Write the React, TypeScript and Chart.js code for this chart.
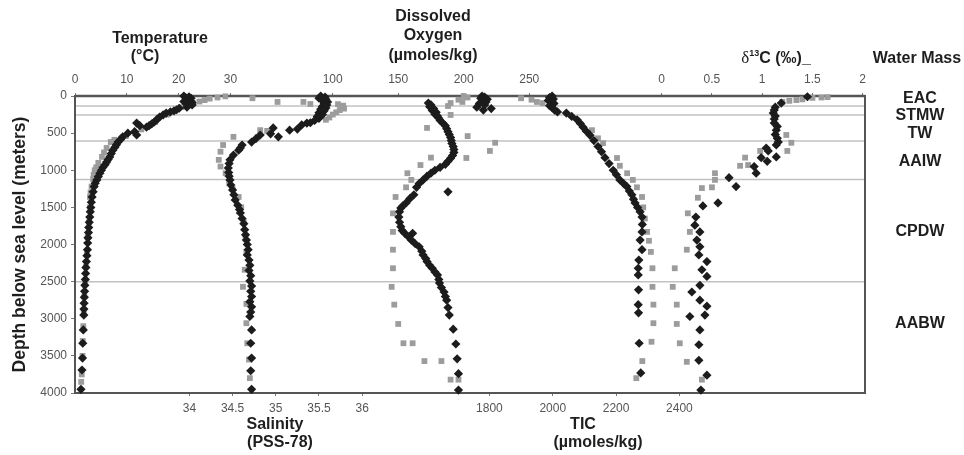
import React, { useEffect, useRef } from 'react';
import { Chart, registerables } from 'chart.js';

Chart.register(...registerables);

type P = [number, number]; // [depth (m), value]

// ---------- Temperature (°C) ----------
const tempBlack: P[] = [
  [0, 21.0], [10, 22.0], [20, 21.3], [30, 22.4], [45, 21.6], [60, 22.2], [75, 21.0], [90, 22.6], [105, 21.8], [120, 22.6],
  [150, 21.6], [165, 20.1], [185, 19.6], [200, 19.1], [215, 18.4], [230, 17.6], [255, 17.0], [285, 16.3], [315, 15.8],
  [350, 15.3], [375, 14.8], [400, 14.3], [420, 13.8], [400, 12.5], [365, 11.9], [480, 11.5], [525, 11.9], [500, 10.2],
  [550, 9.2], [585, 8.8], [620, 8.3], [655, 8.0], [690, 7.7], [730, 7.3], [775, 7.0], [820, 6.7], [855, 6.4], [890, 6.1],
  [925, 5.8], [960, 5.4], [1000, 5.1], [1040, 4.8], [1085, 4.5], [1130, 4.2], [1175, 3.9], [1220, 3.7], [1290, 3.5],
  [1360, 3.3], [1430, 3.15], [1500, 3.05], [1560, 2.95], [1630, 2.85], [1700, 2.75], [1770, 2.65], [1840, 2.6],
  [1910, 2.5], [1980, 2.45], [2070, 2.4], [2150, 2.3], [2230, 2.2], [2310, 2.1], [2390, 2.05], [2470, 2.0], [2550, 1.9],
  [2630, 1.85], [2710, 1.8], [2790, 1.75], [2870, 1.72], [2950, 1.7], [3150, 1.6], [3330, 1.5], [3530, 1.45],
  [3690, 1.35], [3950, 1.15],
];
const tempGray: P[] = [
  [5, 29.0], [20, 27.5], [35, 26.0], [55, 25.0], [75, 24.0], [95, 22.8], [150, 20.5], [250, 17.8], [350, 15.5],
  [450, 12.8], [540, 9.8], [590, 7.6], [620, 6.9], [700, 6.1], [760, 5.6], [820, 5.2], [900, 4.5], [960, 4.1],
  [1000, 3.8], [1060, 3.6], [1120, 3.5], [1220, 3.2], [1300, 3.0], [1360, 2.9], [1500, 2.9], [1700, 2.7], [1900, 2.45],
  [2100, 2.3], [2300, 2.1], [2500, 1.95], [2700, 1.8], [2900, 1.7], [3100, 1.6], [3300, 1.5], [3500, 1.45],
  [3750, 1.3], [3850, 1.2],
];

// ---------- Salinity (PSS-78) ----------
const salBlack: P[] = [
  [0, 35.52], [15, 35.57], [30, 35.5], [45, 35.58], [60, 35.54], [80, 35.6], [100, 35.56], [120, 35.59], [140, 35.54],
  [160, 35.58], [180, 35.52], [200, 35.56], [225, 35.5], [250, 35.54], [275, 35.48], [300, 35.5], [330, 35.45],
  [360, 35.4], [365, 35.36], [390, 35.3], [445, 35.25], [460, 35.16], [430, 34.97], [510, 34.94], [550, 35.03],
  [525, 34.82], [575, 34.77], [620, 34.72], [660, 34.61], [700, 34.59], [730, 34.57], [795, 34.51], [860, 34.47],
  [910, 34.46], [970, 34.45], [1030, 34.455], [1080, 34.46], [1130, 34.47], [1200, 34.48], [1265, 34.5],
  [1330, 34.515], [1400, 34.53], [1470, 34.56], [1530, 34.58], [1575, 34.59], [1650, 34.61], [1720, 34.63],
  [1800, 34.64], [1870, 34.65], [1940, 34.66], [2000, 34.67], [2070, 34.68], [2140, 34.67], [2210, 34.69],
  [2280, 34.7], [2350, 34.69], [2420, 34.71], [2490, 34.7], [2560, 34.72], [2630, 34.71], [2700, 34.72],
  [2770, 34.7], [2840, 34.72], [2910, 34.71], [2970, 34.7], [3150, 34.72], [3330, 34.71], [3530, 34.72],
  [3700, 34.71], [3950, 34.72],
];
const salGray: P[] = [
  [30, 34.73], [80, 35.02], [80, 35.32], [108, 35.4], [110, 35.72], [130, 35.78], [150, 35.76], [170, 35.79],
  [190, 35.74], [220, 35.7], [250, 35.66], [290, 35.62], [320, 35.58], [460, 34.82], [470, 34.9], [550, 34.51],
  [660, 34.39], [750, 34.36], [860, 34.34], [950, 34.36], [1040, 34.42], [1150, 34.46], [1250, 34.5], [1360, 34.57],
  [1500, 34.6], [1700, 34.63], [1900, 34.65], [2100, 34.66], [2340, 34.64], [2570, 34.62], [2800, 34.66],
  [3060, 34.66], [3330, 34.67], [3550, 34.69], [3800, 34.7],
];

// ---------- Dissolved oxygen (µmoles/kg) ----------
const oxyBlack: P[] = [
  [0, 214], [15, 216], [30, 213], [45, 218], [60, 215], [80, 217], [100, 212], [120, 216], [150, 210], [170, 221],
  [190, 215], [95, 173], [120, 175], [145, 174], [170, 177], [195, 176], [220, 179], [245, 178], [270, 180],
  [300, 181], [330, 182], [365, 184], [400, 186], [440, 187], [480, 188], [520, 189], [560, 190], [600, 190.5],
  [640, 191], [680, 192], [720, 192.5], [760, 192.5], [800, 191.5], [840, 190], [880, 188], [920, 186], [960, 182],
  [1000, 178], [1040, 175], [1080, 172], [1130, 169], [1180, 166], [1230, 164], [1290, 188], [1330, 162],
  [1380, 159], [1440, 156], [1480, 153.5], [1510, 152], [1560, 151], [1630, 150.5], [1700, 151], [1760, 152],
  [1810, 153], [1850, 155], [1850, 161], [1900, 158], [1940, 160], [1990, 163], [2030, 166], [2090, 168],
  [2140, 169], [2190, 171], [2230, 172], [2280, 174], [2320, 176], [2370, 178], [2410, 180], [2470, 181],
  [2520, 181.5], [2580, 183], [2640, 185], [2700, 186], [2750, 187], [2850, 188], [2950, 189], [3140, 192],
  [3340, 194], [3540, 195], [3740, 196], [3960, 196],
];
const oxyGray: P[] = [
  [0, 200], [20, 203], [50, 196], [80, 199], [95, 190], [135, 188], [255, 190], [430, 172], [540, 203], [630, 224],
  [740, 220], [835, 202], [830, 175], [930, 167], [1040, 157], [1130, 160], [1230, 156], [1360, 148], [1580, 146],
  [1830, 146], [2070, 146], [2320, 146], [2570, 145], [2810, 147], [3070, 150], [3330, 154], [3330, 161],
  [3570, 170], [3570, 183], [3820, 190], [3820, 196],
];

// ---------- TIC (µmoles/kg) ----------
const ticBlack: P[] = [
  [0, 1998], [20, 1990], [40, 2002], [60, 1986], [80, 1996], [100, 2004], [130, 1990], [160, 1999], [190, 2006],
  [215, 2015], [230, 2043], [275, 2060], [320, 2077], [370, 2087], [420, 2096], [475, 2106], [530, 2118],
  [600, 2130], [680, 2143], [750, 2154], [830, 2165], [910, 2178], [1000, 2191], [1060, 2201], [1130, 2212],
  [1180, 2224], [1220, 2234], [1280, 2242], [1330, 2250], [1390, 2255], [1440, 2260], [1500, 2268], [1560, 2276],
  [1630, 2282], [1730, 2283], [1830, 2282], [1940, 2276], [2070, 2282], [2210, 2272], [2320, 2270], [2410, 2270],
  [2610, 2271], [2810, 2270], [2920, 2271], [3330, 2273], [3730, 2278],
];
const ticGray: P[] = [
  [30, 1900], [50, 1933], [80, 1950], [95, 1968], [460, 2124], [570, 2143], [635, 2159], [835, 2203], [940, 2212],
  [1040, 2235], [1130, 2253], [1230, 2266], [1360, 2282], [1500, 2286], [1650, 2291], [1830, 2298], [1950, 2304],
  [2100, 2310], [2320, 2315], [2570, 2315], [2810, 2318], [3060, 2318], [3310, 2312], [3570, 2283], [3800, 2264],
];

// ---------- δ13C (‰) ----------
const d13Black: P[] = [
  [10, 1.45], [95, 1.19], [150, 1.13], [190, 1.12], [230, 1.11], [270, 1.13], [310, 1.12], [365, 1.12], [410, 1.15],
  [460, 1.14], [520, 1.13], [570, 1.15], [620, 1.16], [660, 1.14], [700, 1.04], [740, 1.06], [820, 1.14],
  [830, 0.99], [880, 1.05], [950, 0.92], [1040, 0.94], [1100, 0.67], [1220, 0.74], [1440, 0.56], [1480, 0.41],
  [1630, 0.34], [1740, 0.33], [1830, 0.38], [1940, 0.35], [2030, 0.38], [2140, 0.37], [2230, 0.45], [2340, 0.4],
  [2430, 0.45], [2550, 0.38], [2640, 0.3], [2750, 0.38], [2830, 0.45], [2950, 0.43], [2970, 0.28], [3150, 0.38],
  [3350, 0.37], [3560, 0.37], [3760, 0.45], [3960, 0.39],
];
const d13Gray: P[] = [
  [15, 1.65], [20, 1.59], [25, 1.5], [45, 1.4], [55, 1.34], [65, 1.27], [80, 1.2], [525, 1.24], [630, 1.29],
  [740, 1.25], [740, 0.98], [830, 0.83], [930, 0.86], [940, 0.78], [1040, 0.53], [1130, 0.53], [1230, 0.5],
  [1240, 0.4], [1370, 0.36], [1580, 0.26], [1830, 0.28], [2070, 0.25], [2320, 0.13], [2570, 0.11], [2810, 0.15],
  [3070, 0.15], [3330, 0.18], [3580, 0.25], [3820, 0.4],
];

// ---------- ticks, boundaries, labels ----------
const tempTicks = [0, 10, 20, 30];
const oxyTicks = [100, 150, 200, 250];
const d13Ticks = [0, 0.5, 1, 1.5, 2];
const salTicks = [34, 34.5, 35, 35.5, 36];
const ticTicks = [1800, 2000, 2200, 2400];
const depthTicks = [0, 500, 1000, 1500, 2000, 2500, 3000, 3500, 4000];
const boundaryDepths = [135, 255, 605, 1125, 2500];
const waterMassNames = ['EAC', 'STMW', 'TW', 'AAIW', 'CPDW', 'AABW'];
const waterMassDepths = [40, 270, 510, 890, 1820, 3070];

const SANS = '"Liberation Sans", Arial, Helvetica, sans-serif';
const SERIF = '"Liberation Serif", "Times New Roman", serif';

const toXY = (arr: P[]) => arr.map(([d, v]) => ({ x: v, y: d }));

const blackSet = (data: P[], xAxisID: string) => ({
  type: 'scatter' as const,
  data: toXY(data),
  xAxisID,
  yAxisID: 'y',
  pointStyle: 'rectRot',
  pointRadius: 4.6,
  backgroundColor: '#1c1c1c',
  borderColor: '#1c1c1c',
  borderWidth: 0,
  showLine: false,
  clip: false,
  order: 1,
});
const graySet = (data: P[], xAxisID: string) => ({
  type: 'scatter' as const,
  data: toXY(data),
  xAxisID,
  yAxisID: 'y',
  pointStyle: 'rect',
  pointRadius: 4.1,
  backgroundColor: '#9c9c9c',
  borderColor: '#9c9c9c',
  borderWidth: 0,
  showLine: false,
  clip: false,
  order: 2,
});

const xAxis = (position: 'top' | 'bottom', min: number, max: number, ticks: number[]) => ({
  type: 'linear',
  position,
  min,
  max,
  afterBuildTicks: (s: any) => {
    s.ticks = ticks.map((v) => ({ value: v }));
  },
  afterFit: (s: any) => {
    s.height = 0;
  },
  grid: { drawOnChartArea: false, tickLength: 3, color: '#777' },
  border: { display: false },
  ticks: {
    autoSkip: false,
    maxRotation: 0,
    padding: position === 'top' ? 6 : 5,
    color: '#555',
    font: { size: 12, family: SANS },
    callback: (v: any) => String(v),
  },
});

const drawSegments = (
  ctx: CanvasRenderingContext2D,
  segs: { t: string; font: string; dy?: number }[],
  cx: number,
  cy: number,
) => {
  let total = 0;
  for (const s of segs) {
    ctx.font = s.font;
    total += ctx.measureText(s.t).width;
  }
  let x = cx - total / 2;
  ctx.textAlign = 'left';
  for (const s of segs) {
    ctx.font = s.font;
    ctx.fillText(s.t, x, cy + (s.dy || 0));
    x += ctx.measureText(s.t).width;
  }
};

const annotPlugin = {
  id: 'annot',
  // zero-size axis boxes are widened after layout so their tick labels are not clipped
  afterLayout(chart: any) {
    const a = chart.chartArea;
    for (const s of Object.values(chart.scales) as any[]) {
      if (s.position === 'top') {
        s.top = 0;
        s.bottom = a.top;
        s.height = a.top;
      } else if (s.position === 'bottom') {
        s.top = a.bottom;
        s.bottom = chart.height;
        s.height = chart.height - a.bottom;
      } else if (s.position === 'left') {
        s.left = 0;
        s.right = a.left;
        s.width = a.left;
      }
    }
  },
  beforeDatasetsDraw(chart: any) {
    const { ctx, chartArea: a, scales } = chart;
    ctx.save();
    ctx.strokeStyle = '#c2c2c2';
    ctx.lineWidth = 1.5;
    for (const d of boundaryDepths) {
      const y = scales.y.getPixelForValue(d);
      ctx.beginPath();
      ctx.moveTo(a.left, y);
      ctx.lineTo(a.right, y);
      ctx.stroke();
    }
    ctx.strokeStyle = '#555';
    ctx.lineWidth = 2;
    ctx.strokeRect(a.left, a.top, a.right - a.left, a.bottom - a.top);
    ctx.beginPath();
    ctx.lineWidth = 2.5;
    ctx.moveTo(a.left, a.top);
    ctx.lineTo(a.right, a.top);
    ctx.stroke();
    ctx.restore();
  },
  afterDraw(chart: any) {
    const { ctx, chartArea: a, scales } = chart;
    ctx.save();
    ctx.fillStyle = '#1e1e1e';
    ctx.textBaseline = 'middle';
    ctx.textAlign = 'center';
    const bold = `bold 16px ${SANS}`;
    ctx.font = bold;
    // top titles
    ctx.fillText('Temperature', 160, 39);
    ctx.fillText('(°C)', 145, 57);
    ctx.fillText('Dissolved', 433, 17);
    ctx.fillText('Oxygen', 433, 36);
    ctx.fillText('(µmoles/kg)', 433, 56);
    ctx.fillText('Water Mass', 917, 59);
    drawSegments(
      ctx,
      [
        { t: 'δ', font: `17px ${SERIF}` },
        { t: '13', font: `bold 9px ${SANS}`, dy: -5 },
        { t: 'C (‰)_', font: bold },
      ],
      776,
      59,
    );
    ctx.textAlign = 'center';
    ctx.font = bold;
    // bottom titles
    ctx.fillText('Salinity', 275, 425);
    ctx.fillText('(PSS-78)', 280, 443);
    ctx.fillText('TIC', 583, 425);
    ctx.fillText('(µmoles/kg)', 598, 443);
    // water masses
    waterMassNames.forEach((n, i) => {
      ctx.fillText(n, a.right + 55, scales.y.getPixelForValue(waterMassDepths[i]));
    });
    // y title
    ctx.save();
    ctx.translate(20, (a.top + a.bottom) / 2);
    ctx.rotate(-Math.PI / 2);
    ctx.font = `bold 17.5px ${SANS}`;
    ctx.fillText('Depth below sea level (meters)', 0, 0);
    ctx.restore();
    ctx.restore();
  },
};

export default function App() {
  const ref = useRef<HTMLCanvasElement | null>(null);
  useEffect(() => {
    if (!ref.current) return;
    const chart = new Chart(ref.current, {
      type: 'scatter',
      data: {
        datasets: [
          blackSet(tempBlack, 'xT'),
          blackSet(salBlack, 'xS'),
          blackSet(oxyBlack, 'xO'),
          blackSet(ticBlack, 'xC'),
          blackSet(d13Black, 'xD'),
          graySet(tempGray, 'xT'),
          graySet(salGray, 'xS'),
          graySet(oxyGray, 'xO'),
          graySet(ticGray, 'xC'),
          graySet(d13Gray, 'xD'),
        ] as any,
      },
      options: {
        animation: false,
        responsive: false,
        events: [],
        layout: { padding: { left: 75, right: 99, top: 96, bottom: 62 } },
        plugins: { legend: { display: false }, tooltip: { enabled: false }, title: { display: false } },
        scales: {
          y: {
            type: 'linear',
            position: 'left',
            reverse: true,
            min: 0,
            max: 4000,
            afterBuildTicks: (s: any) => {
              s.ticks = depthTicks.map((v) => ({ value: v }));
            },
            afterFit: (s: any) => {
              s.width = 0;
            },
            grid: { drawOnChartArea: false, tickLength: 4, color: '#777' },
            border: { display: false },
            ticks: { padding: 4, color: '#555', font: { size: 12, family: SANS }, callback: (v: any) => String(v) },
          },
          xT: xAxis('top', 0, 152.4, tempTicks),
          xO: xAxis('top', -96.7, 506.3, oxyTicks),
          xD: xAxis('top', -5.838, 2.023, d13Ticks),
          xS: xAxis('bottom', 32.676, 41.82, salTicks),
          xC: xAxis('bottom', 491.3, 2986.2, ticTicks),
        } as any,
      },
      plugins: [annotPlugin],
    });
    return () => chart.destroy();
  }, []);
  return (
    <div style={{ position: 'absolute', left: 0, top: 0, width: 964, height: 455, background: '#fff' }}>
      <canvas ref={ref} width={964} height={455} />
    </div>
  );
}
